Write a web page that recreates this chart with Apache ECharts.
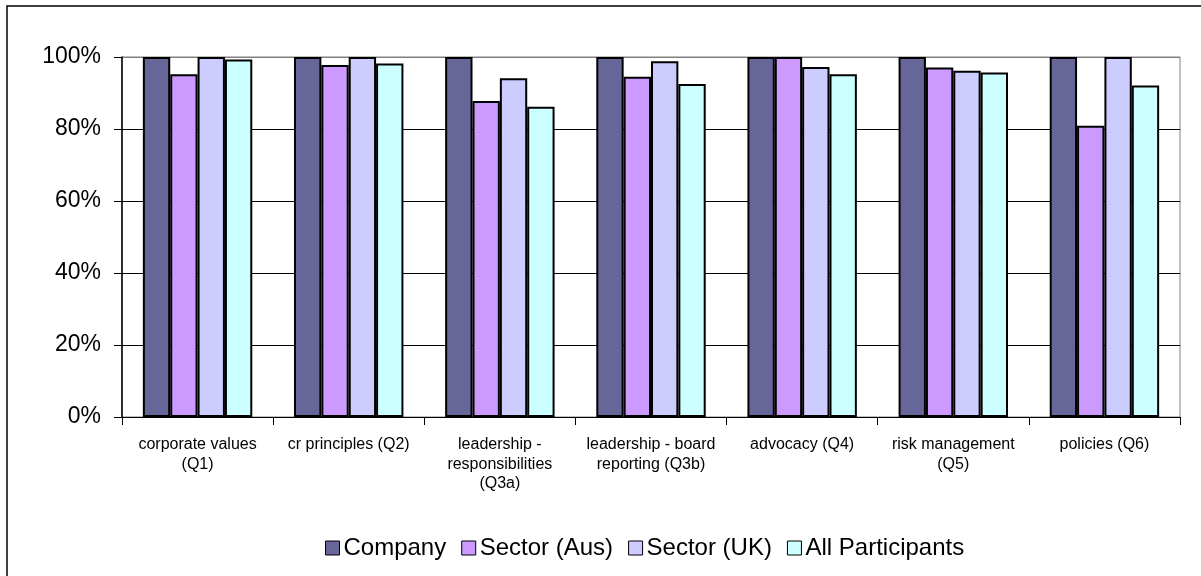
<!DOCTYPE html>
<html>
<head>
<meta charset="utf-8">
<script src="https://cdn.jsdelivr.net/npm/echarts@6/dist/echarts.min.js"></script>
<style>
  html, body { margin: 0; padding: 0; background: #fff; }
  #chart { width: 1201px; height: 576px; }
</style>
</head>
<body>
<div id="chart"></div>
<script>
// Question categories (line breaks follow the wrapped axis labels)
const categories = [
  'corporate values\n(Q1)',
  'cr principles (Q2)',
  'leadership -\nresponsibilities\n(Q3a)',
  'leadership - board\nreporting (Q3b)',
  'advocacy (Q4)',
  'risk management\n(Q5)',
  'policies (Q6)'
];

// Share of positive responses, as fractions
const company         = [1.000, 1.000, 1.000, 1.000, 1.000, 1.000, 1.000];
const sectorAus       = [0.952, 0.978, 0.878, 0.945, 1.000, 0.971, 0.809];
const sectorUK        = [1.000, 1.000, 0.941, 0.988, 0.972, 0.962, 1.000];
const allParticipants = [0.993, 0.982, 0.862, 0.925, 0.952, 0.957, 0.921];

const seriesNames  = ['Company', 'Sector (Aus)', 'Sector (UK)', 'All Participants'];
const seriesColors = ['#666699', '#CC99FF', '#CCCCFF', '#CCFFFF'];
const seriesValues = [company, sectorAus, sectorUK, allParticipants];

const FONT = '"Liberation Sans", Arial, sans-serif';

const chart = echarts.init(document.getElementById('chart'), null, { renderer: 'canvas' });

chart.setOption({
  backgroundColor: '#ffffff',
  animation: false,
  textStyle: { fontFamily: FONT, color: '#000' },
  graphic: [
    // outer chart frame (left and top edges fall inside the canvas)
    {
      type: 'rect',
      shape: { x: 7, y: 6, width: 1220, height: 600 },
      style: { fill: 'none', stroke: '#000', lineWidth: 1.5 },
      silent: true
    }
  ],
  grid: {
    left: 122,
    right: 21,
    top: 57,
    bottom: 159,
    show: true,
    borderColor: '#808080',
    borderWidth: 1,
    backgroundColor: 'transparent'
  },
  legend: {
    left: 320,
    top: 531,
    itemWidth: 14,
    itemHeight: 14,
    itemGap: 15,
    icon: 'rect',
    textStyle: { fontFamily: FONT, fontSize: 24, color: '#000', padding: [0, 0, 0, -1] },
    itemStyle: { borderColor: '#000', borderWidth: 1 },
    data: seriesNames
  },
  xAxis: {
    type: 'category',
    data: categories,
    axisLine: { show: true, lineStyle: { color: '#000', width: 1 } },
    axisTick: { show: true, length: 8, inside: false, lineStyle: { color: '#000' } },
    axisLabel: {
      interval: 0,
      margin: 18,
      fontFamily: FONT,
      fontSize: 16,
      lineHeight: 19.5,
      color: '#000',
      align: 'center'
    },
    splitLine: { show: false }
  },
  yAxis: {
    type: 'value',
    min: 0,
    max: 1,
    interval: 0.2,
    axisLine: { show: true, lineStyle: { color: '#000', width: 1.5 } },
    axisTick: { show: true, length: 8, inside: false, lineStyle: { color: '#000' } },
    axisLabel: {
      margin: 21,
      fontFamily: FONT,
      fontSize: 23,
      color: '#000',
      formatter: v => Math.round(v * 100) + '%'
    },
    splitLine: {
      show: true,
      lineStyle: { color: ['#000', '#000', '#000', '#000', '#000', '#808080'], width: 1 }
    }
  },
  series: seriesNames.map((name, i) => ({
    name: name,
    type: 'bar',
    data: seriesValues[i],
    barGap: '0%',
    barCategoryGap: '27.6%',
    itemStyle: {
      color: seriesColors[i],
      borderColor: '#000',
      borderWidth: 2
    },
    emphasis: { disabled: true }
  }))
});
</script>
</body>
</html>
